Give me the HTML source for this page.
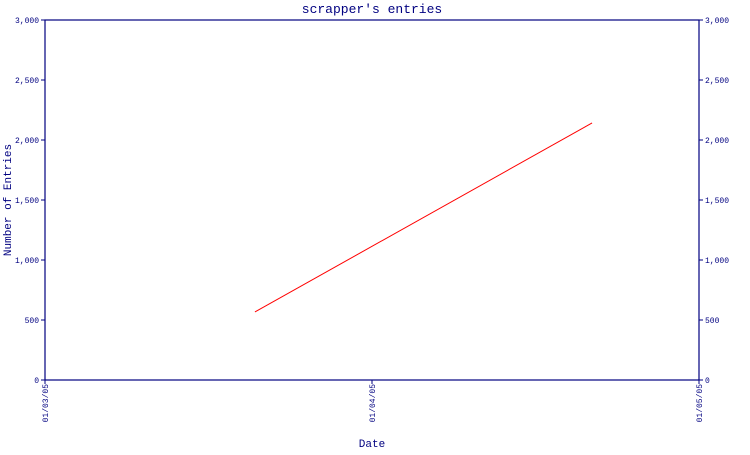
<!DOCTYPE html>
<html><head><meta charset="utf-8"><style>
body{margin:0;background:#fff}
svg text{font-family:"Liberation Mono","DejaVu Sans Mono",monospace;fill:#000080}
</style></head><body>
<svg id="chart" width="750" height="450" xmlns="http://www.w3.org/2000/svg">
<text x="372" y="13" font-size="13" text-anchor="middle">scrapper's entries</text>
<text x="372" y="447" font-size="11" text-anchor="middle">Date</text>
<text transform="translate(11,200) rotate(-90)" font-size="11" text-anchor="middle">Number of Entries</text>
<g id="axes"></g>
</svg>
<script>
const xCategories = ["01/03/05","01/04/05","01/05/05"];
const yTicks = [0,500,1000,1500,2000,2500,3000];
const yTickLabels = ["0","500","1,000","1,500","2,000","2,500","3,000"];
const seriesX = [0.642, 1.673];
const seriesY = [567, 2142];
const L=45,R=699,T=20,B=380,YMAX=3000;
const xs=v=>L+v*(R-L)/(xCategories.length-1);
const ys=v=>B-v*(B-T)/YMAX;
const NS="http://www.w3.org/2000/svg";
const g=document.getElementById('axes');
function mk(t,a){const e=document.createElementNS(NS,t);for(const k in a)e.setAttribute(k,a[k]);g.appendChild(e);return e;}
const frame=mk('rect',{x:L,y:T,width:R-L,height:B-T,fill:'none',stroke:'#000080','stroke-width':1.2});


yTicks.forEach((v,i)=>{
  const y=ys(v);
  const t1=mk('line',{x1:L-4,x2:L,y1:y,y2:y,stroke:'#000080'});
  
  
  const t2=mk('line',{x1:R,x2:R+4,y1:y,y2:y,stroke:'#000080'});
  
  
  const a=mk('text',{x:L-6,y:y+3,'font-size':8,'text-anchor':'end'});a.textContent=yTickLabels[i];
  
  
  const b=mk('text',{x:R+6,y:y+3,'font-size':8});b.textContent=yTickLabels[i];
  
  
});
xCategories.forEach((c,i)=>{
  const x=xs(i);
  const t=mk('line',{x1:x,x2:x,y1:B,y2:B+4,stroke:'#000080'});
  
  
  const l=mk('text',{transform:`translate(${x+3},${B+4}) rotate(-90)`,'font-size':8,'text-anchor':'end'});l.textContent=c;
  
  
});
const pts=seriesX.map((v,i)=>xs(v)+','+ys(seriesY[i])).join(' ');
const line=mk('polyline',{points:pts,fill:'none',stroke:'#ff0000','stroke-width':1});


</script>
</body></html>
